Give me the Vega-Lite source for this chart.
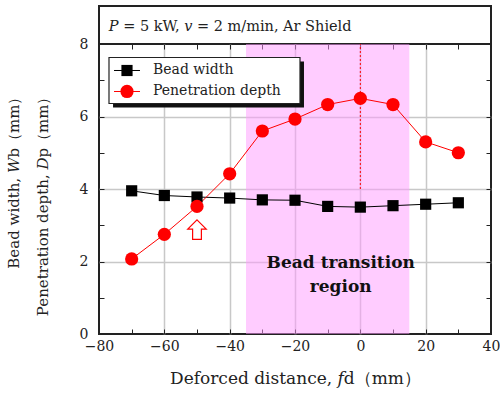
{
  "$schema": "https://vega.github.io/schema/vega-lite/v6.json",
  "background": "white",
  "padding": 5,
  "spacing": 0,
  "bounds": "flush",
  "config": {
    "view": {"stroke": "#222", "strokeWidth": 2},
    "font": "DejaVu Serif",
    "text": {"font": "DejaVu Serif"},
    "axis": {
      "labelFont": "DejaVu Serif", "titleFont": "DejaVu Serif",
      "labelColor": "#222", "titleColor": "#222", "titleFontWeight": "normal",
      "labelFontSize": 14, "titleFontSize": 16,
      "tickColor": "#222", "tickWidth": 1,
      "gridColor": "#c8c8c8", "gridWidth": 1.5,
      "domain": false, "minExtent": 0
    }
  },
  "vconcat": [
    {
      "width": 392,
      "height": 38,
      "data": {"values": [{"label": "𝑃 = 5 kW, 𝑣 = 2 m/min, Ar Shield"}]},
      "mark": {"type": "text", "align": "left", "baseline": "middle", "fontSize": 14.5, "color": "#222", "dy": 2},
      "encoding": {
        "x": {"datum": -77, "type": "quantitative", "scale": {"domain": [-80, 40], "nice": false, "zero": false}, "axis": null},
        "text": {"field": "label"}
      }
    },
    {
      "width": 392,
      "height": 290,
      "data": {"values": [
        {"fd": -70, "value": 3.95, "series": "Bead width"},
        {"fd": -60, "value": 3.82, "series": "Bead width"},
        {"fd": -50, "value": 3.78, "series": "Bead width"},
        {"fd": -40, "value": 3.75, "series": "Bead width"},
        {"fd": -30, "value": 3.70, "series": "Bead width"},
        {"fd": -20, "value": 3.69, "series": "Bead width"},
        {"fd": -10, "value": 3.52, "series": "Bead width"},
        {"fd": 0, "value": 3.50, "series": "Bead width"},
        {"fd": 10, "value": 3.54, "series": "Bead width"},
        {"fd": 20, "value": 3.58, "series": "Bead width"},
        {"fd": 30, "value": 3.62, "series": "Bead width"},
        {"fd": -70, "value": 2.07, "series": "Penetration depth"},
        {"fd": -60, "value": 2.75, "series": "Penetration depth"},
        {"fd": -50, "value": 3.52, "series": "Penetration depth"},
        {"fd": -40, "value": 4.42, "series": "Penetration depth"},
        {"fd": -30, "value": 5.60, "series": "Penetration depth"},
        {"fd": -20, "value": 5.93, "series": "Penetration depth"},
        {"fd": -10, "value": 6.33, "series": "Penetration depth"},
        {"fd": 0, "value": 6.50, "series": "Penetration depth"},
        {"fd": 10, "value": 6.33, "series": "Penetration depth"},
        {"fd": 20, "value": 5.30, "series": "Penetration depth"},
        {"fd": 30, "value": 5.00, "series": "Penetration depth"}
      ]},
      "resolve": {"axis": {"x": "independent", "y": "independent"}},
      "layer": [
        {
          "data": {"values": [{}]},
          "mark": {"type": "rect", "color": "#ff99ff", "opacity": 0.5},
          "encoding": {
            "x": {"datum": -35, "type": "quantitative", "scale": {"domain": [-80, 40], "nice": false, "zero": false}, "axis": null},
            "x2": {"datum": 15},
            "y": {"datum": 0, "type": "quantitative", "scale": {"domain": [0, 8], "nice": false, "zero": false}, "axis": null},
            "y2": {"datum": 8}
          }
        },
        {
          "data": {"values": [{}]},
          "mark": {"type": "rule", "color": "red", "strokeWidth": 1, "strokeDash": [2, 2]},
          "encoding": {
            "x": {"datum": 0, "type": "quantitative", "axis": null},
            "y": {"datum": 4, "type": "quantitative", "axis": null},
            "y2": {"datum": 8}
          }
        },
        {
          "mark": {"type": "line", "strokeWidth": 1},
          "encoding": {
            "x": {
              "field": "fd", "type": "quantitative",
              "axis": {
                "orient": "bottom",
                "values": [-80, -70, -60, -50, -40, -30, -20, -10, 0, 10, 20, 30, 40],
                "labelExpr": "datum.value % 20 === 0 ? datum.label : ''",
                "tickSize": -5, "labelPadding": 10,
                "labelFlush": false, "labelOverlap": false,
                "grid": true,
                "gridOpacity": {"condition": {"test": "datum.value % 20 === 0 && datum.value > -80 && datum.value < 40", "value": 1}, "value": 0},
                "title": "Deforced distance,  𝑓d（mm）",
                "titleFontSize": 17,
                "titlePadding": 17
              }
            },
            "y": {
              "field": "value", "type": "quantitative",
              "axis": {
                "orient": "left",
                "values": [0, 1, 2, 3, 4, 5, 6, 7, 8],
                "labelExpr": "datum.value % 2 === 0 ? datum.label : ''",
                "tickSize": -5, "labelPadding": 16,
                "grid": true,
                "gridOpacity": {"condition": {"test": "datum.value % 2 === 0 && datum.value > 0 && datum.value < 8", "value": 1}, "value": 0},
                "title": ["Bead width, 𝑊b（mm）", "Penetration depth, 𝐷p（mm）"],
                "titleFontSize": 15,
                "titleLineHeight": 29,
                "titlePadding": 29,
                "titleAlign": "right",
                "titleY": 45
              }
            },
            "color": {
              "field": "series", "type": "nominal",
              "scale": {"domain": ["Bead width", "Penetration depth"], "range": ["black", "red"]},
              "legend": null
            }
          }
        },
        {
          "mark": {"type": "point", "filled": true, "opacity": 1},
          "encoding": {
            "x": {"field": "fd", "type": "quantitative", "axis": null},
            "y": {"field": "value", "type": "quantitative", "axis": null},
            "color": {"field": "series", "type": "nominal", "legend": null},
            "shape": {"field": "series", "type": "nominal", "scale": {"domain": ["Bead width", "Penetration depth"], "range": ["square", "circle"]}, "legend": null},
            "size": {"field": "series", "type": "nominal", "scale": {"domain": ["Bead width", "Penetration depth"], "range": [125, 175]}, "legend": null}
          }
        },
        {
          "data": {"values": [{}]},
          "mark": {"type": "point", "shape": "M0,-1L0.95,-0.05H0.45V1H-0.45V-0.05H-0.95Z", "filled": true, "fill": "white", "stroke": "red", "strokeWidth": 1.2, "size": 380, "opacity": 1},
          "encoding": {
            "x": {"datum": -50, "type": "quantitative", "axis": null},
            "y": {"datum": 2.88, "type": "quantitative", "axis": null}
          }
        },
        {
          "data": {"values": [{"label": "Bead transition\nregion"}]},
          "mark": {"type": "text", "align": "center", "baseline": "middle", "fontSize": 17, "fontWeight": "bold", "lineBreak": "\n", "lineHeight": 24, "color": "#111"},
          "encoding": {
            "x": {"datum": -6, "type": "quantitative", "axis": null},
            "y": {"datum": 1.95, "type": "quantitative", "axis": null},
            "text": {"field": "label"}
          }
        },
        {
          "data": {"values": [{}]},
          "mark": {"type": "rect", "color": "#111"},
          "encoding": {
            "x": {"datum": -75.7, "type": "quantitative", "axis": {"orient": "top", "values": [-80, -70, -60, -50, -40, -30, -20, -10, 0, 10, 20, 30, 40], "labels": false, "grid": false, "tickSize": -5, "title": null, "minExtent": 0}},
            "x2": {"datum": -17.25},
            "y": {"datum": 7.517, "type": "quantitative", "axis": {"orient": "right", "values": [0, 1, 2, 3, 4, 5, 6, 7, 8], "labels": false, "grid": false, "tickSize": -5, "title": null, "minExtent": 0}},
            "y2": {"datum": 6.248}
          }
        },
        {
          "data": {"values": [{}]},
          "mark": {"type": "rect", "fill": "white", "stroke": "#222", "strokeWidth": 1.2},
          "encoding": {
            "x": {"datum": -76.94, "type": "quantitative", "axis": null},
            "x2": {"datum": -18.47},
            "y": {"datum": 7.628, "type": "quantitative", "axis": null},
            "y2": {"datum": 6.359}
          }
        },
        {
          "data": {"values": [{"series": "Bead width"}]},
          "layer": [
            {
              "mark": {"type": "rule", "strokeWidth": 1},
              "encoding": {
                "x": {"datum": -75.4, "type": "quantitative", "axis": null},
                "x2": {"datum": -67.45},
                "y": {"datum": 7.269, "type": "quantitative", "axis": null},
                "color": {"field": "series", "type": "nominal", "legend": null}
              }
            },
            {
              "mark": {"type": "point", "filled": true, "opacity": 1},
              "encoding": {
                "x": {"datum": -71.43, "type": "quantitative", "axis": null},
                "y": {"datum": 7.269, "type": "quantitative", "axis": null},
                "color": {"field": "series", "type": "nominal", "legend": null},
                "shape": {"field": "series", "type": "nominal", "legend": null},
                "size": {"field": "series", "type": "nominal", "legend": null}
              }
            },
            {
              "mark": {"type": "text", "align": "left", "baseline": "middle", "fontSize": 14, "color": "#222"},
              "encoding": {
                "x": {"datum": -63.47, "type": "quantitative", "axis": null},
                "y": {"datum": 7.269, "type": "quantitative", "axis": null},
                "text": {"field": "series"}
              }
            }
          ]
        },
        {
          "data": {"values": [{"series": "Penetration depth"}]},
          "layer": [
            {
              "mark": {"type": "rule", "strokeWidth": 1},
              "encoding": {
                "x": {"datum": -75.4, "type": "quantitative", "axis": null},
                "x2": {"datum": -67.45},
                "y": {"datum": 6.69, "type": "quantitative", "axis": null},
                "color": {"field": "series", "type": "nominal", "legend": null}
              }
            },
            {
              "mark": {"type": "point", "filled": true, "opacity": 1},
              "encoding": {
                "x": {"datum": -71.43, "type": "quantitative", "axis": null},
                "y": {"datum": 6.69, "type": "quantitative", "axis": null},
                "color": {"field": "series", "type": "nominal", "legend": null},
                "shape": {"field": "series", "type": "nominal", "legend": null},
                "size": {"field": "series", "type": "nominal", "legend": null}
              }
            },
            {
              "mark": {"type": "text", "align": "left", "baseline": "middle", "fontSize": 14, "color": "#222"},
              "encoding": {
                "x": {"datum": -63.47, "type": "quantitative", "axis": null},
                "y": {"datum": 6.69, "type": "quantitative", "axis": null},
                "text": {"field": "series"}
              }
            }
          ]
        }
      ]
    }
  ]
}
